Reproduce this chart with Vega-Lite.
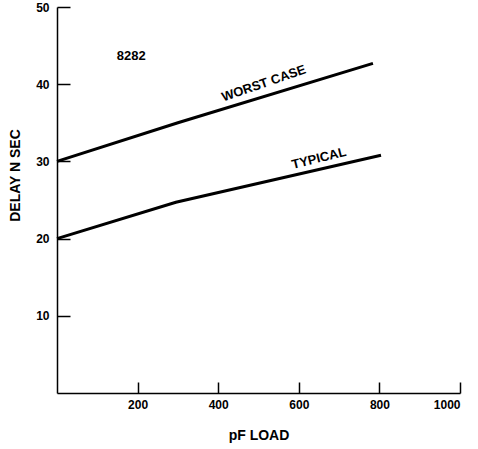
{
  "$schema": "https://vega.github.io/schema/vega-lite/v6.json",
  "width": 403,
  "height": 386,
  "autosize": {"type": "none"},
  "padding": {"left": 57, "top": 7, "right": 18, "bottom": 56},
  "background": "white",
  "config": {
    "view": {"stroke": null},
    "font": "Liberation Sans",
    "axis": {
      "grid": false,
      "domainColor": "black",
      "domainWidth": 1.5,
      "tickColor": "black",
      "tickWidth": 1.5,
      "labelFont": "Liberation Sans",
      "labelFontWeight": "bold",
      "labelFontSize": 12,
      "labelColor": "black",
      "titleFont": "Liberation Sans",
      "titleFontWeight": "bold",
      "titleFontSize": 14,
      "titleColor": "black"
    }
  },
  "datasets": {
    "curves": [
      {"load": 0, "delay": 30, "series": "WORST CASE"},
      {"load": 300, "delay": 35, "series": "WORST CASE"},
      {"load": 784, "delay": 42.7, "series": "WORST CASE"},
      {"load": 0, "delay": 20, "series": "TYPICAL"},
      {"load": 295, "delay": 24.7, "series": "TYPICAL"},
      {"load": 804, "delay": 30.8, "series": "TYPICAL"}
    ],
    "notes": [
      {"load": 184, "delay": 43.7, "label": "8282", "kind": "id"},
      {"load": 513, "delay": 40.1, "label": "WORST CASE", "kind": "worst"},
      {"load": 650, "delay": 30.4, "label": "TYPICAL", "kind": "typical"}
    ]
  },
  "layer": [
    {
      "data": {"name": "curves"},
      "mark": {"type": "line", "color": "black", "strokeWidth": 3},
      "encoding": {
        "x": {
          "field": "load", "type": "quantitative",
          "scale": {"domain": [0, 1000], "nice": false},
          "axis": {
            "title": "pF LOAD",
            "values": [200, 400, 600, 800, 1000],
            "format": "d",
            "tickSize": -11,
            "labelPadding": 17,
            "titlePadding": 18
          }
        },
        "y": {
          "field": "delay", "type": "quantitative",
          "scale": {"domain": [0, 50], "nice": false},
          "axis": {
            "title": "DELAY N SEC",
            "values": [10, 20, 30, 40, 50],
            "tickSize": -13,
            "labelPadding": 21,
            "titlePadding": 13,
            "titleY": 168
          }
        },
        "detail": {"field": "series"}
      }
    },
    {
      "data": {"name": "notes"},
      "transform": [{"filter": "datum.kind == 'id'"}],
      "mark": {"type": "text", "fontWeight": "bold", "fontSize": 13, "font": "Liberation Sans", "color": "black"},
      "encoding": {"x": {"field": "load", "type": "quantitative"}, "y": {"field": "delay", "type": "quantitative"}, "text": {"field": "label"}}
    },
    {
      "data": {"name": "notes"},
      "transform": [{"filter": "datum.kind == 'worst'"}],
      "mark": {"type": "text", "fontWeight": "bold", "fontSize": 13, "font": "Liberation Sans", "color": "black", "angle": -19},
      "encoding": {"x": {"field": "load", "type": "quantitative"}, "y": {"field": "delay", "type": "quantitative"}, "text": {"field": "label"}}
    },
    {
      "data": {"name": "notes"},
      "transform": [{"filter": "datum.kind == 'typical'"}],
      "mark": {"type": "text", "fontWeight": "bold", "fontSize": 13, "font": "Liberation Sans", "color": "black", "angle": -14},
      "encoding": {"x": {"field": "load", "type": "quantitative"}, "y": {"field": "delay", "type": "quantitative"}, "text": {"field": "label"}}
    }
  ]
}
